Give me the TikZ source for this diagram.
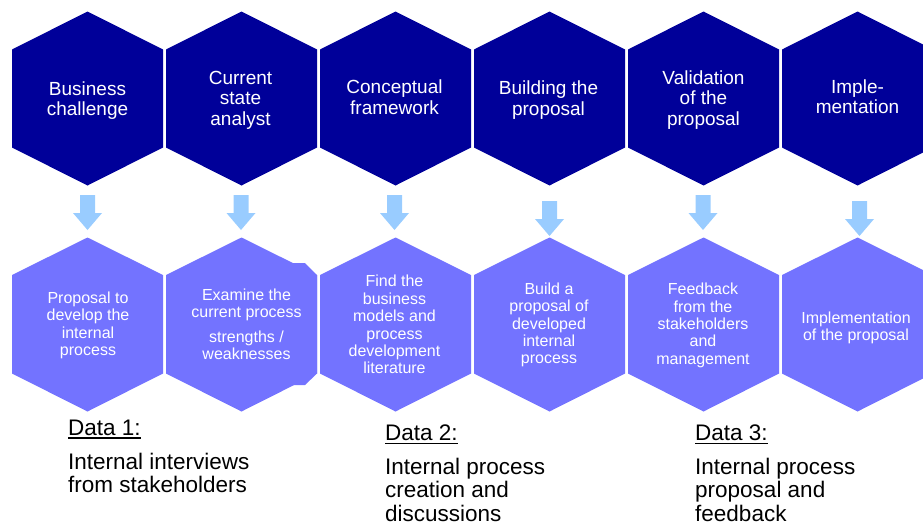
\documentclass[tikz,border=0pt]{standalone}
\usepackage{fontspec}
\setmainfont{Liberation Sans}
\usetikzlibrary{calc}
\definecolor{navyhex}{RGB}{0,0,153}
\definecolor{lighthex}{RGB}{115,115,255}
\definecolor{arrowblue}{RGB}{153,204,255}
\tikzset{
  tophex/.style={fill=navyhex},
  bothex/.style={fill=lighthex},
  blockarrow/.style={fill=arrowblue},
  toptext/.style={text=white, align=center, inner sep=0pt, font=\fontsize{19}{20.5}\selectfont},
  bottext/.style={text=white, align=center, inner sep=0pt, font=\fontsize{16}{17.4}\selectfont},
  datahead/.style={anchor=base west, inner sep=0pt, font=\fontsize{22.5}{23.5}\selectfont},
  datatext/.style={anchor=north west, align=left, inner sep=0pt, font=\fontsize{22.5}{23.5}\selectfont},
  underl/.style={line width=1.3pt},
}
\begin{document}
\begin{tikzpicture}[x=1pt,y=-1pt]
\useasboundingbox (0,0) rectangle (923,525);
\clip (0,0) rectangle (923,525);
% hexagons
\foreach \cx in {87.5,241.5,395.5,549.5,703.5,857.5} {
  \fill[tophex] (\cx,11.5) -- (\cx+75.5,49.5) -- (\cx+75.5,147.5) -- (\cx,185.5)
     -- (\cx-75.5,147.5) -- (\cx-75.5,49.5) -- cycle;
  \fill[bothex] (\cx,237.5) -- (\cx+75.5,275) -- (\cx+75.5,373.5) -- (\cx,411.5)
     -- (\cx-75.5,373.5) -- (\cx-75.5,275) -- cycle;
}
% small extra piece on the right of the second lower hexagon
\fill[bothex] (285,263) -- (305,263) -- (317,275) -- (317,373.5) -- (305,385) -- (285,385) -- cycle;
% block arrows
\foreach \cx/\tp in {87.5/195,241/195,394.5/195,549.5/201,703/195,859.5/201} {
  \fill[blockarrow] (\cx-7.5,\tp) -- (\cx+7.5,\tp) -- (\cx+7.5,\tp+18) -- (\cx+14.5,\tp+18)
     -- (\cx,\tp+35) -- (\cx-14.5,\tp+18) -- (\cx-7.5,\tp+18) -- cycle;
}
% top texts
\node[toptext] (h1) at (87.5,100.5) {Business\\challenge};
\node[toptext] (h2) at (240.5,100.2) {Current\\state\\analyst};
\node[toptext] (h3) at (394.5,97) {Conceptual\\framework};
\node[toptext] (h4) at (548.5,100.3) {Building the\\proposal};
\node[toptext] (h5) at (703.5,100) {Validation\\of the\\proposal};
\node[toptext] (h6) at (857.5,96.8) {Imple-\\mentation};
% bottom texts
\node[bottext] (b1) at (88,325.2) {Proposal to\\develop the\\internal\\process};
\node[bottext] (b2) at (246.5,324.2) {Examine the\\current process\\[7pt]strengths /\\weaknesses};
\node[bottext] (b3) at (394.5,324.7) {Find the\\business\\models and\\process\\development\\literature};
\node[bottext] (b4) at (549,324.9) {Build a\\proposal of\\developed\\internal\\process};
\node[bottext] (b5) at (703,325.4) {Feedback\\from the\\stakeholders\\and\\management};
\node[bottext] (b6) at (856,327.6) {Implementation\\of the proposal};
% data texts
\node[datahead] (d1) at (68,435) {Data 1:};
\draw[underl] ($(d1.base west)+(0,3)$) -- ($(d1.base east)+(0,3)$);
\node[datatext] (t1) at (68,452.6) {Internal interviews\\from stakeholders};
\node[datahead] (d2) at (385,440.5) {Data 2:};
\draw[underl] ($(d2.base west)+(0,3)$) -- ($(d2.base east)+(0,3)$);
\node[datatext] (t2) at (385,457.8) {Internal process\\creation and\\discussions};
\node[datahead] (d3) at (695,440.5) {Data 3:};
\draw[underl] ($(d3.base west)+(0,3)$) -- ($(d3.base east)+(0,3)$);
\node[datatext] (t3) at (695,457.8) {Internal process\\proposal and\\feedback};
\end{tikzpicture}
\end{document}
